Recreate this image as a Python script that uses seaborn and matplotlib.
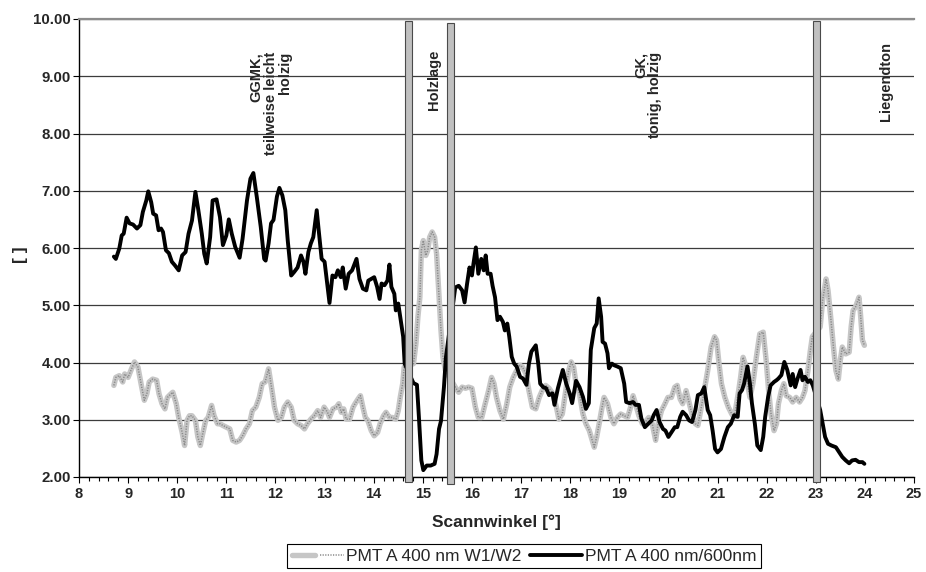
import numpy as np
import pandas as pd
import matplotlib
matplotlib.use("Agg")
import matplotlib.pyplot as plt
import seaborn as sns
from matplotlib.patches import Rectangle
from matplotlib.ticker import MultipleLocator, FormatStrFormatter
from matplotlib.legend_handler import HandlerTuple

# ---------------- data ----------------
ratio_x = [8.71, 8.75, 8.82, 8.87, 8.91, 8.97, 9.03, 9.10, 9.18, 9.25, 9.30, 9.37, 9.41, 9.47,
           9.51, 9.57, 9.62, 9.67, 9.71, 9.77, 9.83, 9.89, 9.95, 10.03, 10.10, 10.17, 10.23,
           10.30, 10.37, 10.43, 10.50, 10.55, 10.60, 10.67, 10.72, 10.80, 10.87, 10.93, 11.00,
           11.05, 11.11, 11.18, 11.27, 11.33, 11.42, 11.49, 11.55, 11.62, 11.70, 11.77,
           11.80, 11.86, 11.91, 11.96, 12.03, 12.08, 12.14, 12.20, 12.25, 12.32, 12.38, 12.45,
           12.52, 12.57, 12.61, 12.67, 12.72, 12.77, 12.84, 12.88, 12.94, 13.00, 13.06, 13.10,
           13.16, 13.22, 13.27, 13.33, 13.37, 13.43, 13.49, 13.56, 13.61, 13.65, 13.71, 13.78,
           13.85, 13.89, 13.95, 14.01, 14.07, 14.12, 14.16, 14.22, 14.28, 14.32, 14.36, 14.42,
           14.45, 14.50, 14.55, 14.60, 14.63, 14.81, 14.88, 14.92, 14.97, 15.01, 15.08, 15.16,
           15.24, 15.28, 15.33, 15.37, 15.43, 15.47, 15.66, 15.73, 15.80, 15.85, 15.90, 15.95,
           16.00, 16.03, 16.08, 16.13, 16.19, 16.24, 16.28, 16.32, 16.38, 16.42, 16.47, 16.52,
           16.57, 16.63, 16.67, 16.72, 16.76, 16.81, 16.86, 16.91, 16.98, 17.04, 17.11, 17.16,
           17.21, 17.30, 17.35, 17.39, 17.45, 17.51, 17.57, 17.64, 17.68, 17.75, 17.85, 17.92,
           17.99, 18.04, 18.12, 18.19, 18.26, 18.32, 18.38, 18.42, 18.49, 18.54, 18.58, 18.63,
           18.66, 18.71, 18.76, 18.79, 18.85, 18.90, 18.96, 19.03, 19.10, 19.14, 19.21, 19.28,
           19.33, 19.40, 19.45, 19.52, 19.59, 19.66, 19.70, 19.76, 19.82, 19.89, 19.94, 20.00,
           20.06, 20.13, 20.18, 20.24, 20.29, 20.36, 20.42, 20.48, 20.55, 20.60, 20.67, 20.73,
           20.80, 20.85, 20.90, 20.95, 21.00, 21.07, 21.14, 21.21, 21.27, 21.34, 21.41, 21.45,
           21.50, 21.54, 21.61, 21.66, 21.70, 21.76, 21.81, 21.88, 21.93, 21.97, 22.03, 22.08,
           22.15, 22.20, 22.24, 22.30, 22.36, 22.42, 22.49, 22.53, 22.58, 22.63, 22.69, 22.73,
           22.78, 22.84, 22.89, 22.94, 23.09, 23.14, 23.19, 23.25, 23.32, 23.41, 23.48, 23.54,
           23.61, 23.68, 23.74, 23.81, 23.88, 23.95, 23.99]
ratio_y = [5.85, 5.81, 5.99, 6.22, 6.25, 6.53, 6.43, 6.41, 6.34, 6.40, 6.63, 6.83, 6.99, 6.80,
           6.60, 6.57, 6.31, 6.34, 6.28, 5.96, 5.91, 5.76, 5.70, 5.61, 5.87, 5.93, 6.25,
           6.48, 6.98, 6.66, 6.25, 5.90, 5.73, 6.19, 6.83, 6.85, 6.54, 6.05, 6.22,
           6.50, 6.25, 6.02, 5.83, 6.16, 6.83, 7.21, 7.31, 6.89, 6.37, 5.81,
           5.78, 6.08, 6.43, 6.49, 6.90, 7.05, 6.92, 6.66, 6.13, 5.52, 5.58, 5.66,
           5.87, 5.76, 5.55, 5.93, 6.08, 6.19, 6.66, 6.31, 5.81, 5.76, 5.32, 5.04,
           5.52, 5.49, 5.61, 5.49, 5.66, 5.29, 5.55, 5.61, 5.72, 5.81, 5.46, 5.29,
           5.26, 5.43, 5.46, 5.49, 5.32, 5.11, 5.38, 5.35, 5.43, 5.71, 5.32, 5.20,
           4.91, 5.03, 4.74, 4.45, 3.98, 3.64, 3.61, 3.05, 2.29, 2.12, 2.20, 2.20,
           2.23, 2.40, 2.84, 2.98, 3.57, 4.09, 5.31, 5.34, 5.26, 5.05, 5.37, 5.66,
           5.52, 5.72, 6.01, 5.55, 5.81, 5.61, 5.87, 5.55, 5.55, 5.34, 5.14, 4.74,
           4.80, 4.71, 4.56, 4.68, 4.45, 4.10, 3.98, 3.93, 3.75, 3.72, 3.61, 3.98,
           4.19, 4.30, 3.98, 3.63, 3.57, 3.55, 3.43, 3.46, 3.26, 3.55, 3.87, 3.63,
           3.46, 3.29, 3.68, 3.57, 3.40, 3.19, 3.29, 4.22, 4.60, 4.68, 5.12, 4.80,
           4.36, 4.33, 4.16, 3.90, 3.98, 3.95, 3.93, 3.90, 3.63, 3.31, 3.29, 3.31,
           3.26, 3.26, 3.02, 2.87, 2.93, 2.99, 3.08, 3.17, 2.96, 2.84, 2.81, 2.70,
           2.78, 2.87, 2.87, 3.05, 3.14, 3.08, 2.99, 2.96, 3.17, 3.43, 3.46, 3.57,
           3.17, 3.08, 2.81, 2.49, 2.43, 2.49, 2.70, 2.87, 2.93, 3.08, 3.05, 3.46,
           3.52, 3.63, 3.93, 3.63, 3.29, 2.93, 2.55, 2.47, 2.70, 3.05, 3.40, 3.60,
           3.66, 3.69, 3.72, 3.78, 4.01, 3.87, 3.60, 3.80, 3.57, 3.72, 3.87, 3.69,
           3.75, 3.66, 3.69, 3.60, 3.17, 2.93, 2.70, 2.58, 2.55, 2.52, 2.43, 2.35,
           2.29, 2.24, 2.29, 2.30, 2.26, 2.26, 2.23]

w1w2_x = [8.71, 8.75, 8.82, 8.89, 8.93, 9.00, 9.07, 9.13, 9.20, 9.27, 9.33, 9.38, 9.43, 9.50,
          9.58, 9.63, 9.69, 9.75, 9.80, 9.87, 9.91, 9.98, 10.03, 10.10, 10.15, 10.20, 10.25,
          10.30, 10.37, 10.42, 10.47, 10.51, 10.58, 10.63, 10.70, 10.75, 10.82, 10.87, 10.93,
          11.00, 11.07, 11.13, 11.20, 11.27, 11.33, 11.40, 11.47, 11.53, 11.60, 11.67, 11.73,
          11.79, 11.86, 11.93, 11.98, 12.05, 12.12, 12.18, 12.25, 12.32, 12.38, 12.45, 12.52,
          12.59, 12.65, 12.72, 12.79, 12.86, 12.92, 12.99, 13.06, 13.10, 13.17, 13.24, 13.29,
          13.34, 13.39, 13.44, 13.51, 13.58, 13.62, 13.68, 13.73, 13.78, 13.83, 13.88, 13.95,
          14.01, 14.08, 14.13, 14.20, 14.25, 14.32, 14.38, 14.45, 14.50, 14.54, 14.59, 14.62,
          14.81, 14.86, 14.90, 14.94, 14.97, 15.01, 15.06, 15.10, 15.14, 15.19, 15.24, 15.28,
          15.33, 15.37, 15.41, 15.46, 15.66, 15.73, 15.80, 15.87, 15.93, 16.00, 16.07, 16.13,
          16.20, 16.27, 16.34, 16.40, 16.45, 16.50, 16.57, 16.64, 16.71, 16.77, 16.84, 16.91,
          16.98, 17.03, 17.10, 17.16, 17.23, 17.30, 17.37, 17.43, 17.50, 17.57, 17.65, 17.72,
          17.77, 17.84, 17.91, 17.97, 18.02, 18.07, 18.12, 18.19, 18.26, 18.32, 18.39, 18.46,
          18.49, 18.54, 18.59, 18.65, 18.69, 18.76, 18.83, 18.89, 18.96, 19.03, 19.10, 19.17,
          19.23, 19.28, 19.33, 19.40, 19.47, 19.53, 19.60, 19.67, 19.74, 19.79, 19.86, 19.93,
          19.99, 20.06, 20.13, 20.18, 20.24, 20.29, 20.36, 20.41, 20.48, 20.55, 20.60, 20.67,
          20.73, 20.80, 20.87, 20.94, 20.98, 21.03, 21.08, 21.15, 21.22, 21.29, 21.34, 21.42,
          21.47, 21.52, 21.56, 21.61, 21.66, 21.72, 21.79, 21.86, 21.93, 21.99, 22.04, 22.09,
          22.15, 22.20, 22.24, 22.30, 22.35, 22.40, 22.47, 22.53, 22.60, 22.67, 22.73, 22.78,
          22.84, 22.89, 22.93, 23.09, 23.14, 23.21, 23.25, 23.31, 23.36, 23.41, 23.46, 23.50,
          23.54, 23.61, 23.68, 23.72, 23.76, 23.81, 23.88, 23.91, 23.95, 23.99]
w1w2_y = [3.60, 3.74, 3.77, 3.66, 3.80, 3.74, 3.89, 4.01, 3.92, 3.60, 3.34, 3.45, 3.66, 3.71,
          3.69, 3.45, 3.28, 3.19, 3.39, 3.45, 3.48, 3.28, 3.04, 2.78, 2.55, 2.99, 3.07,
          3.07, 2.99, 2.70, 2.55, 2.72, 2.99, 3.04, 3.25, 3.07, 2.93, 2.93, 2.90,
          2.87, 2.84, 2.64, 2.61, 2.64, 2.72, 2.84, 2.93, 3.16, 3.22, 3.39, 3.63,
          3.66, 3.89, 3.51, 3.22, 2.99, 3.04, 3.22, 3.31, 3.22, 2.99, 2.93, 2.90,
          2.84, 2.93, 3.01, 3.07, 3.16, 3.04, 3.22, 3.13, 3.04, 3.19, 3.22, 3.28,
          3.13, 3.19, 3.01, 3.01, 3.22, 3.28, 3.36, 3.42, 3.22, 3.04, 2.99, 2.81,
          2.72, 2.78, 2.93, 3.07, 3.13, 3.04, 3.04, 3.01, 3.16, 3.39, 3.63, 3.92,
          3.98, 4.33, 4.80, 5.14, 5.96, 6.13, 5.87, 5.96, 6.19, 6.28, 6.19, 5.90,
          5.14, 4.56, 4.09, 3.86, 3.57, 3.48, 3.57, 3.55, 3.57, 3.55, 3.22, 3.04,
          3.04, 3.28, 3.51, 3.74, 3.63, 3.39, 3.16, 3.01, 3.28, 3.57, 3.74, 3.86,
          3.95, 3.92, 3.80, 3.51, 3.22, 3.19, 3.39, 3.51, 3.60, 3.55, 3.45, 3.22,
          3.01, 3.10, 3.51, 3.86, 4.01, 3.92, 3.63, 3.45, 3.10, 2.93, 2.81, 2.61,
          2.52, 2.70, 2.93, 3.22, 3.39, 3.28, 3.04, 2.93, 3.04, 3.10, 3.07, 3.04,
          3.22, 3.42, 3.28, 3.07, 2.93, 2.96, 3.04, 2.93, 2.64, 2.93, 3.16, 3.28,
          3.39, 3.39, 3.57, 3.60, 3.36, 3.28, 3.51, 3.34, 3.10, 2.93, 2.90, 3.22,
          3.51, 3.86, 4.27, 4.45, 4.39, 3.98, 3.63, 3.39, 3.22, 3.10, 3.04, 3.45,
          3.74, 4.09, 3.98, 3.63, 3.39, 3.63, 4.09, 4.50, 4.53, 4.04, 3.51, 3.10,
          2.81, 2.93, 3.28, 3.51, 3.63, 3.42, 3.39, 3.31, 3.39, 3.31, 3.39, 3.51,
          3.86, 4.21, 4.45, 4.62, 5.09, 5.46, 5.26, 4.74, 4.27, 3.86, 3.71, 4.04,
          4.27, 4.15, 4.18, 4.62, 4.91, 4.97, 5.14, 4.85, 4.39, 4.30]

series_labels = ["PMT A 400 nm W1/W2", "PMT A 400 nm/600nm"]
boundaries = [14.71, 15.56, 23.01]
layer_labels = ["GGMK,\nteilweise leicht\nholzig", "Holzlage", "GK,\ntonig, holzig", "Liegendton"]
layer_label_x = [11.90, 15.23, 19.58, 24.42]
layer_label_top = [9.42, 9.46, 9.42, 9.60]
x_label = "Scannwinkel [°]"
y_label = "[ ]"

# ---------------- figure ----------------
sns.set_theme(style="white")
plt.rcParams["font.family"] = ["Liberation Sans", "DejaVu Sans"]

AX_L, AX_R, AX_T, AX_B = 79, 914, 19, 477
fig = plt.figure(figsize=(9.26, 5.72), dpi=100)
ax = fig.add_axes([AX_L / 926, 1 - AX_B / 572, (AX_R - AX_L) / 926, (AX_B - AX_T) / 572])
ax.set_facecolor("white")

df_w = pd.DataFrame({"x": w1w2_x, "y": w1w2_y})
df_r = pd.DataFrame({"x": ratio_x, "y": ratio_y})

sns.lineplot(data=df_w, x="x", y="y", ax=ax, color="#c6c6c6", linewidth=3.9,
             sort=False, estimator=None, legend=False, zorder=3)
gray_base = ax.lines[-1]
sns.lineplot(data=df_w, x="x", y="y", ax=ax, color="#8a8a8a", linewidth=1.1,
             sort=False, estimator=None, legend=False, zorder=3.1)
gray_dots = ax.lines[-1]
gray_dots.set_dashes([0.8, 0.9])
sns.lineplot(data=df_r, x="x", y="y", ax=ax, color="black", linewidth=2.8,
             sort=False, estimator=None, legend=False, zorder=4)
black_line = ax.lines[-1]

ax.set_xlim(8, 25)
ax.set_ylim(2, 10)
ax.xaxis.set_major_locator(MultipleLocator(1))
ax.xaxis.set_minor_locator(MultipleLocator(0.2))
ax.yaxis.set_major_locator(MultipleLocator(1))
ax.yaxis.set_major_formatter(FormatStrFormatter("%.2f"))

ax.yaxis.grid(True, color="#3c3c3c", linewidth=0.9)
ax.xaxis.grid(False)
ax.set_axisbelow(True)

for s in ["left", "bottom"]:
    ax.spines[s].set_color("black")
    ax.spines[s].set_linewidth(1.0)
ax.spines["top"].set_color("#8c8c8c")
ax.spines["top"].set_linewidth(1.6)
ax.spines["right"].set_visible(False)

ax.tick_params(axis="both", which="both", direction="out", bottom=True, left=True,
               color="black", width=0.8)
ax.tick_params(axis="x", which="major", length=4, pad=3, labelsize=10.5)
ax.tick_params(axis="x", which="minor", length=3)
ax.tick_params(axis="y", which="major", length=4, pad=2, labelsize=10.8)
for lab in ax.get_xticklabels() + ax.get_yticklabels():
    lab.set_fontweight("bold")

ax.set_xlabel(x_label, fontsize=12.5, fontweight="bold")
ax.xaxis.set_label_coords(0.5, (AX_B - 522) / (AX_B - AX_T))
ax.xaxis.label.set_va("center")
ax.set_ylabel(y_label, fontsize=12.5, fontweight="bold")
ax.yaxis.set_label_coords((20 - AX_L) / (AX_R - AX_L), (AX_B - 255) / (AX_B - AX_T))
ax.yaxis.label.set_va("center")

# boundary bars
bar_w = 0.14
bar_bottom = [1.91, 1.88, 1.91]
bar_top = [9.97, 9.93, 9.97]
for b, lo, hi in zip(boundaries, bar_bottom, bar_top):
    ax.add_patch(Rectangle((b - bar_w / 2, lo), bar_w, hi - lo, facecolor="#c0c0c0",
                           edgecolor="#4a4a4a", linewidth=0.8, zorder=6, clip_on=False))

# layer labels
for txt, xx, yy in zip(layer_labels, layer_label_x, layer_label_top):
    ax.text(xx, yy, txt, rotation=90, ha="center", va="top", multialignment="right",
            fontsize=10.5, fontweight="bold", zorder=7, linespacing=1.05)

leg = fig.legend(handles=[(gray_base, gray_dots), black_line], labels=series_labels,
                 loc="center", bbox_to_anchor=(524 / 926, 1 - 556 / 572), ncol=2,
                 frameon=True, fancybox=False, edgecolor="black", framealpha=1,
                 fontsize=12.5, handlelength=3.0, handletextpad=0.15, columnspacing=0.5,
                 borderpad=0.25, handler_map={tuple: HandlerTuple(ndivide=None)})
leg.get_frame().set_linewidth(0.8)

fig.savefig("out.png", dpi=100, facecolor="white")
